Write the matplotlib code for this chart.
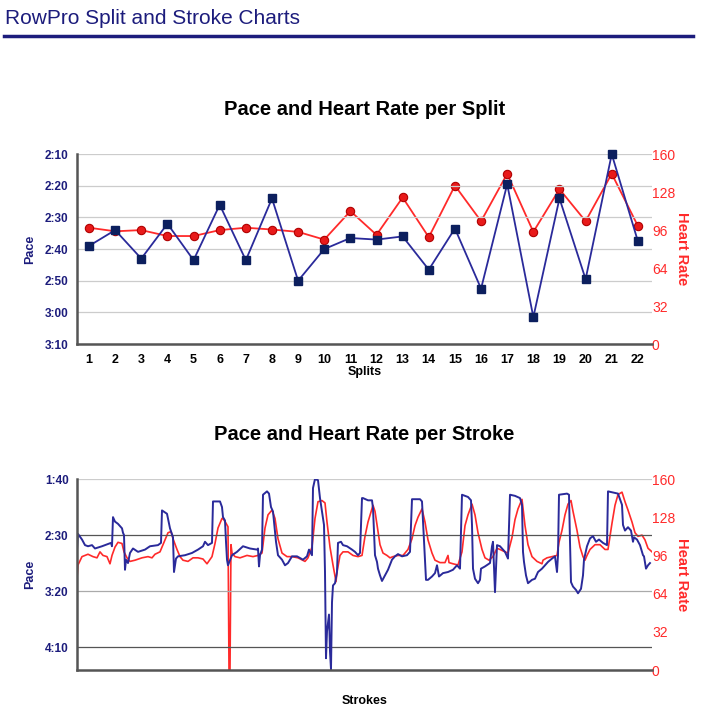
import matplotlib
matplotlib.use("Agg")
from matplotlib import pyplot as plt
from matplotlib.ticker import FuncFormatter
import numpy as np

plt.rcParams['font.family'] = ['Liberation Sans', 'DejaVu Sans']

NAVY = '#1c1c7c'
PACE_LINE = '#2a2a9a'
PACE_MARK = '#0c1f5e'
RED = '#ff2a2a'

# per split data
splits = list(range(1, 23))
split_pace = [159, 154, 163, 152, 163.5, 146, 163.5, 144, 170, 160, 156.5, 157,
              156, 166.5, 153.5, 172.5, 139.5, 181.5, 144, 169.5, 130, 157.5]
split_hr = [98, 95, 96, 91, 91, 96, 98, 96.5, 94.5, 88, 112, 92,
            123.5, 90, 133.5, 103.5, 143.5, 94.5, 130.5, 103.5, 143.5, 99.5]

# per stroke data (stroke number, value)
stroke_pace_x = [0, 1, 5, 8, 11, 15, 18, 25, 31, 34, 35, 36, 38, 41, 45, 46, 47, 48, 49, 51,
                 53, 56, 61, 68, 73, 81, 84, 85, 90, 93, 96, 97, 99, 101, 108, 115, 121, 126, 128, 131,
                 135, 136, 143, 145, 146, 148, 149, 150, 151, 155, 160, 166, 173, 180, 181, 182, 183, 185, 186, 190,
                 192, 194, 196, 199, 201, 205, 208, 211, 215, 220, 226, 230, 232, 235, 236, 238, 241, 243, 245, 247,
                 248, 249, 250, 252, 253, 254, 255, 256, 258, 260, 261, 264, 266, 270, 275, 278, 281, 283, 285, 286,
                 291, 295, 296, 298, 300, 301, 303, 305, 308, 311, 315, 318, 321, 325, 330, 333, 335, 343, 345, 347,
                 349, 351, 355, 358, 360, 362, 366, 371, 376, 380, 383, 385, 391, 394, 395, 396, 398, 401, 403, 404,
                 408, 413, 415, 416, 418, 420, 423, 428, 431, 433, 438, 443, 445, 446, 447, 449, 451, 455, 458, 461,
                 465, 468, 471, 475, 478, 480, 481, 482, 490, 492, 493, 494, 496, 499, 501, 504, 506, 507, 510, 513,
                 516, 519, 522, 526, 530, 531, 541, 545, 546, 548, 551, 554, 556, 557, 560, 563, 566, 567, 569, 571,
                 573]
stroke_pace = [163, 149, 154, 159, 160, 159, 162, 160, 158, 157, 160, 134, 138, 140, 144, 148, 150, 181, 172, 175,
               166, 162, 165, 163, 160, 159, 157, 128, 131, 144, 152, 183, 171, 169, 168, 166, 163, 160, 156, 159,
               157, 120, 120, 125, 134, 137, 156, 172, 177, 168, 165, 160, 162, 163, 162, 178, 168, 163, 114, 111,
               113, 125, 129, 156, 168, 172, 177, 175, 169, 169, 172, 169, 163, 168, 108, 100, 101, 117, 129, 141,
               183, 260, 236, 221, 254, 270, 210, 195, 193, 183, 157, 156, 159, 160, 163, 165, 168, 166, 117, 117,
               119, 119, 126, 168, 174, 180, 186, 191, 186, 181, 172, 169, 167, 169, 168, 165, 118, 118, 120, 156,
               190, 190, 187, 184, 177, 187, 184, 183, 181, 177, 180, 114, 116, 119, 141, 180, 189, 193, 190, 180,
               178, 175, 160, 156, 201, 159, 160, 165, 171, 114, 115, 117, 123, 165, 174, 186, 193, 190, 189, 183,
               180, 177, 174, 171, 169, 183, 168, 114, 113, 114, 156, 192, 196, 199, 202, 198, 186, 172, 160, 153,
               151, 156, 154, 157, 159, 111, 113, 123, 141, 146, 143, 146, 156, 152, 154, 159, 168, 169, 180, 177,
               175]

stroke_hr_x = [0, 1, 5, 8, 11, 16, 20, 23, 26, 30, 33, 35, 38, 41, 45, 47, 50, 53, 58, 65,
               71, 75, 78, 83, 86, 91, 94, 96, 100, 103, 106, 111, 116, 121, 126, 130, 135, 138, 141, 145,
               146, 149, 151, 152, 153, 154, 155, 158, 163, 170, 176, 181, 185, 188, 191, 195, 198, 201, 205, 210,
               215, 221, 228, 231, 235, 238, 241, 245, 248, 250, 253, 256, 259, 260, 263, 266, 271, 276, 281, 285,
               288, 291, 295, 296, 298, 301, 303, 306, 310, 313, 316, 321, 326, 331, 335, 338, 341, 345, 348, 351,
               355, 358, 363, 368, 371, 372, 376, 381, 385, 388, 391, 395, 398, 401, 405, 408, 412, 416, 420, 423,
               428, 431, 435, 438, 441, 445, 448, 451, 455, 460, 465, 466, 470, 475, 480, 482, 485, 488, 491, 494,
               496, 500, 503, 506, 508, 510, 513, 518, 523, 528, 531, 535, 538, 541, 545, 548, 551, 555, 558, 561,
               565, 568, 571, 575]
stroke_hr = [77, 88, 95, 96, 97, 95, 94, 99, 96, 95, 89, 96, 103, 107, 106, 99, 94, 91, 92, 94,
             95, 94, 97, 99, 105, 115, 116, 110, 101, 95, 92, 91, 94, 94, 93, 89, 95, 106, 119, 127,
             127, 123, 120, 0, 0, 105, 98, 95, 94, 96, 95, 96, 98, 119, 130, 134, 127, 110, 98, 95,
             95, 94, 91, 94, 103, 127, 141, 142, 140, 124, 103, 88, 74, 82, 96, 99, 99, 96, 95, 96,
             112, 124, 135, 138, 133, 116, 105, 98, 96, 94, 95, 96, 96, 101, 110, 121, 128, 135, 124, 109,
             98, 92, 90, 90, 96, 90, 89, 88, 99, 121, 130, 139, 130, 115, 101, 94, 92, 95, 102, 101,
             99, 98, 111, 126, 135, 143, 121, 105, 95, 91, 89, 92, 94, 95, 96, 107, 117, 130, 139, 142,
             133, 117, 103, 95, 92, 96, 101, 105, 105, 101, 101, 123, 138, 147, 149, 141, 134, 124, 115, 112,
             113, 109, 102, 99]


def pace_fmt(v, pos):
    v = int(round(v))
    return '%d:%02d' % (v // 60, v % 60)


def style_axes(ax, ax2, grid_colors):
    ax.set_facecolor('none')
    for side in ['top', 'right']:
        ax.spines[side].set_visible(False)
    for side in ['left', 'bottom']:
        ax.spines[side].set_color('#555555')
        ax.spines[side].set_linewidth(1.8)
    for side in ['top', 'right', 'left', 'bottom']:
        ax2.spines[side].set_visible(False)
    ax.tick_params(axis='both', length=0)
    ax2.tick_params(axis='both', length=0)
    ax.yaxis.set_major_formatter(FuncFormatter(pace_fmt))
    for lab in ax.get_yticklabels():
        lab.set_color(NAVY)
        lab.set_fontweight('bold')
        lab.set_fontsize(8.5)
    for lab in ax2.get_yticklabels():
        lab.set_color(RED)
        lab.set_fontsize(10)
    ax.tick_params(axis='y', pad=6)
    ax2.tick_params(axis='y', pad=0)
    ax.set_ylabel('Pace', color=NAVY, fontweight='bold', fontsize=9, labelpad=6)
    ax2.set_ylabel('Heart Rate', color=RED, fontweight='bold', fontsize=10.5,
                   rotation=270, labelpad=10)
    for t, c in zip(ax.get_yticks(), grid_colors):
        ax.axhline(t, color=c, lw=0.9, zorder=0)


fig = plt.figure(figsize=(7.09, 7.22), dpi=100)

fig.text(0.007, 0.975, 'RowPro Split and Stroke Charts', color=NAVY, fontsize=15,
         ha='left', va='center')
fig.add_artist(plt.Line2D([0.006, 0.977], [0.95, 0.95], color=NAVY, lw=2.5,
                          transform=fig.transFigure))

# --- splits chart ---
ax1 = fig.add_axes([0.1086, 0.5235, 0.811, 0.263])
ax1b = ax1.twinx()
ax1.set_zorder(ax1b.get_zorder() + 1)
ax1b.plot(splits, split_hr, color=RED, lw=1.3, marker='o', markersize=6,
          markerfacecolor='#e81a1a', markeredgecolor='#b00000', markeredgewidth=0.8,
          clip_on=False)
ax1.plot(splits, split_pace, color=PACE_LINE, lw=1.3, marker='s', markersize=6,
         markerfacecolor=PACE_MARK, markeredgecolor=PACE_MARK, clip_on=False)
ax1.set_xlim(0.54, 22.54)
ax1.set_ylim(190, 130)
ax1.set_yticks(np.arange(130, 191, 10))
ax1b.set_ylim(0, 160)
ax1b.set_yticks(np.arange(0, 161, 32))
ax1.set_xticks(splits)
style_axes(ax1, ax1b, ['#cccccc'] * 7)
for lab in ax1.get_xticklabels():
    lab.set_fontweight('bold')
    lab.set_fontsize(9)
ax1.tick_params(axis='x', pad=7)
ax1.set_xlabel('Splits', fontweight='bold', fontsize=9, labelpad=0)
ax1.set_title('Pace and Heart Rate per Split', fontweight='bold', fontsize=14.5, pad=28)

# --- strokes chart ---
ax2 = fig.add_axes([0.1086, 0.072, 0.811, 0.2645])
ax2b = ax2.twinx()
ax2.set_zorder(ax2b.get_zorder() + 1)
ax2b.plot(stroke_hr_x, stroke_hr, color=RED, lw=1.2)
ax2.plot(stroke_pace_x, stroke_pace, color=PACE_LINE, lw=1.4)
ax2.set_xlim(0, 575)
ax2.set_ylim(270.5, 100)
ax2.set_yticks([100, 150, 200, 250])
ax2b.set_ylim(0, 160)
ax2b.set_yticks(np.arange(0, 161, 32))
ax2.set_xticks([])
style_axes(ax2, ax2b, ['#cccccc', '#555555', '#aaaaaa', '#555555'])
ax2.set_xlabel('Strokes', fontweight='bold', fontsize=9, labelpad=18)
ax2.set_title('Pace and Heart Rate per Stroke', fontweight='bold', fontsize=14.5, pad=28)

fig.savefig('out.png', dpi=100)
